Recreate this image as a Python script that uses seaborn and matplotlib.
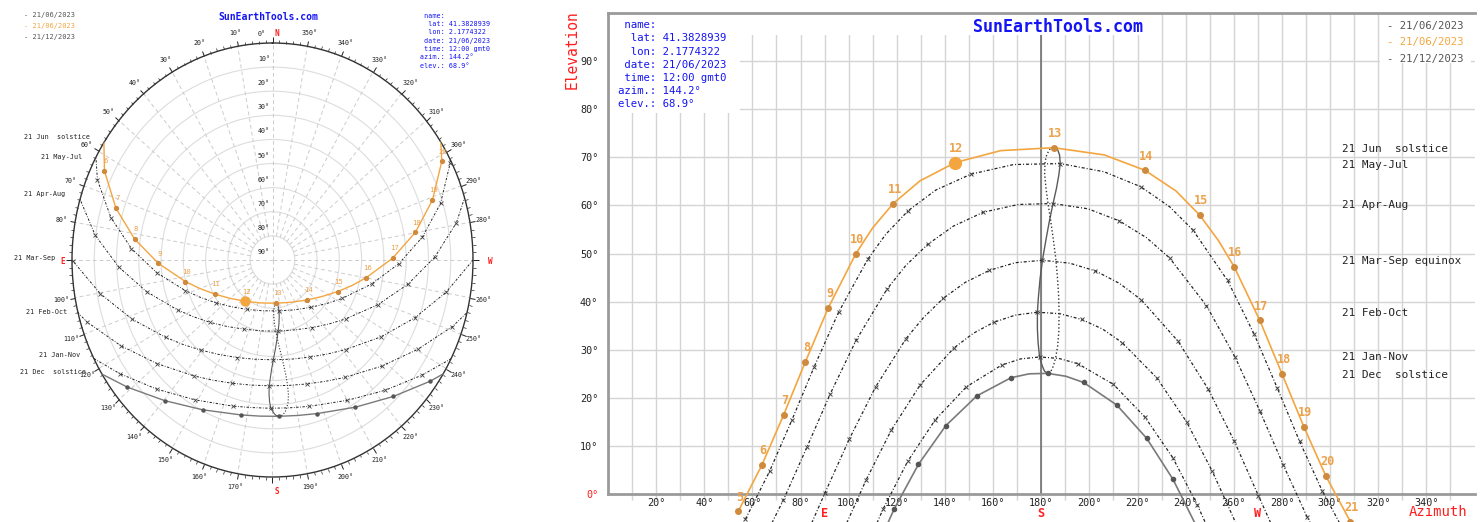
import numpy as np
import matplotlib
matplotlib.use("Agg")
import matplotlib.pyplot as plt
import seaborn as sns
from matplotlib.patches import Rectangle

# ---- values: azimuth / elevation in degrees, hour = clock label ----
hours_jun = [5, 6, 7, 8, 9, 10, 10.5, 11, 11.5, 12, 12.5, 13, 13.5, 14, 14.5, 15, 15.5, 16, 17, 18, 19, 20, 21]
az_jun = [54.1, 63.9, 73.0, 82.0, 91.5, 102.9, 109.9, 118.5, 129.6, 144.2, 163.2, 185.2, 206.2, 223.1, 236.0,
          245.8, 253.6, 260.1, 270.8, 280.1, 289.1, 298.3, 308.4]
el_jun = [-3.6, 6.0, 16.5, 27.5, 38.7, 49.9, 55.3, 60.4, 65.1, 68.9, 71.4, 72.0, 70.5, 67.3, 63.0,
          58.0, 52.7, 47.3, 36.1, 24.9, 14.0, 3.7, -5.7]

hours_may = [5, 6, 7, 8, 9, 10, 10.5, 11, 11.5, 12, 12.5, 13, 13.5, 14, 14.5, 15, 16, 17, 18, 19, 20, 21]
az_may = [57.1, 67.1, 76.4, 85.7, 95.8, 107.9, 115.4, 124.7, 136.2, 150.8, 168.5, 187.9, 206.1, 221.3, 233.4,
          243.0, 257.4, 268.5, 278.1, 287.3, 296.8, 307.2]
el_may = [-5.2, 4.7, 15.4, 26.5, 37.8, 48.8, 54.0, 58.9, 63.2, 66.5, 68.5, 68.7, 67.0, 63.9, 59.7,
          54.9, 44.4, 33.2, 22.0, 11.0, 0.6, -9.0]

hours_apr = [5, 6, 7, 8, 9, 10, 10.5, 11, 11.5, 12, 12.5, 13, 13.5, 14, 14.5, 15, 16, 17, 18, 19, 20, 21]
az_apr = [62.4, 72.8, 82.6, 92.4, 103.1, 115.9, 123.7, 132.8, 143.5, 156.0, 170.5, 184.9, 199.4, 212.4, 223.7,
          233.3, 248.6, 260.6, 270.9, 280.6, 290.5, 301.3]
el_apr = [-11.7, -1.3, 9.7, 20.9, 32.0, 42.6, 47.5, 51.9, 55.7, 58.6, 60.2, 60.4, 59.3, 56.8, 53.3,
          49.1, 39.2, 28.4, 17.2, 6.0, -4.8, -14.9]

hours_mar = [6, 7, 8, 9, 10, 10.5, 11, 11.5, 12, 12.5, 13, 13.5, 14, 14.5, 15, 16, 17, 18, 19, 20]
az_mar = [80.2, 90.2, 100.3, 111.2, 123.8, 131.1, 139.3, 148.4, 158.4, 169.2, 180.5, 191.8, 202.5, 212.5,
          221.5, 236.8, 249.4, 260.2, 270.2, 280.3]
el_mar = [-11.0, 0.3, 11.5, 22.3, 32.3, 36.7, 40.7, 44.0, 46.5, 48.1, 48.6, 48.0, 46.4, 43.8,
          40.4, 31.8, 21.8, 11.0, -0.3, -11.5]

hours_feb = [7, 8, 9, 10, 11, 11.5, 12, 12.5, 13, 13.5, 14, 14.5, 15, 16, 17, 18, 19]
az_feb = [97.3, 107.2, 117.7, 129.7, 143.8, 151.7, 160.2, 169.2, 178.4, 187.7, 196.8, 205.5, 213.6, 228.1,
          240.4, 251.1, 261.0]
el_feb = [-8.1, 2.9, 13.3, 22.7, 30.4, 33.4, 35.7, 37.2, 37.8, 37.5, 36.3, 34.3, 31.5, 24.1, 15.0, 4.7, -6.2]

hours_jan = [7, 8, 9, 10, 11, 12, 12.5, 13, 13.5, 14, 15, 16, 17, 18, 19]
az_jan = [105.0, 114.4, 124.5, 135.9, 148.9, 163.5, 171.4, 179.3, 187.3, 195.2, 210.0, 223.1, 234.6, 244.8, 254.3]
el_jan = [-13.6, -3.0, 6.8, 15.4, 22.3, 26.8, 28.1, 28.5, 28.2, 27.1, 22.8, 16.0, 7.6, -2.2, -12.7]

hours_dec = [7, 8, 9, 10, 11, 12, 12.5, 13, 13.5, 14, 15, 16, 17, 18]
az_dec = [109.6, 118.9, 129.0, 140.3, 153.2, 167.5, 175.0, 182.6, 190.2, 197.6, 211.4, 223.8, 234.7, 244.4]
el_dec = [-13.4, -3.1, 6.2, 14.2, 20.4, 24.2, 25.0, 25.1, 24.5, 23.2, 18.5, 11.6, 3.1, -6.6]

# analemma at 13h: Dec->Jun (solid) and Jun->Dec (dotted)
ana1_az = [182.6, 181.3, 180.3, 179.3, 178.7, 178.4, 178.4, 178.8, 179.5, 180.5, 182.0, 183.4, 184.9, 186.3,
           187.3, 187.9, 187.6, 186.8, 185.2]
ana1_el = [25.1, 25.6, 26.8, 28.5, 31.4, 34.3, 37.8, 40.8, 44.7, 48.6, 53.0, 56.8, 60.4, 63.5,
           66.3, 68.7, 70.5, 71.6, 72.0]
ana2_az = [185.2, 183.6, 182.3, 181.6, 181.4, 181.9, 182.7, 183.9, 185.0, 186.0, 186.7, 187.2, 187.4, 187.3,
           186.8, 186.0, 185.1, 184.0, 182.6]
ana2_el = [72.0, 71.7, 70.6, 69.1, 66.6, 63.9, 60.8, 56.9, 53.0, 49.1, 45.2, 41.4, 37.5, 33.8,
           30.7, 28.4, 26.7, 25.5, 25.1]

sun_az, sun_el = 144.2, 68.9

info_keys = ["name", "lat", "lon", "date", "time", "azim.", "elev."]
info_vals = ["", "41.3828939", "2.1774322", "21/06/2023", "12:00 gmt0", "144.2°", "68.9°"]
legend_labels = ["- 21/06/2023", "- 21/06/2023", "- 21/12/2023"]
month_labels = ["21 Jun  solstice", "21 May-Jul", "21 Apr-Aug", "21 Mar-Sep equinox",
                "21 Feb-Oct", "21 Jan-Nov", "21 Dec  solstice"]
polar_month_labels = ["21 Jun  solstice", "21 May-Jul", "21 Apr-Aug", "21 Mar-Sep",
                      "21 Feb-Oct", "21 Jan-Nov", "21 Dec  solstice"]
az_ticks = list(range(20, 360, 20))
el_ticks = list(range(0, 100, 10))
az_grid = list(range(10, 360, 10))
el_grid = list(range(10, 100, 10))

W, H = 1483, 522


def fx(x):
    return x / W


def fy(y):
    return 1 - y / H


def on_hour(hours, values):
    return [v for h, v in zip(hours, values) if float(h).is_integer()]


sns.set_theme(style="white")
plt.rcParams["font.family"] = ["DejaVu Sans Mono", "DejaVu Sans"]

ORANGE = "#f3a640"
ORANGE_DOT = "#cf8a3c"
ORANGE_TXT = "#eda14a"
GRID = "#d4d4d4"
BLUE = "#1414f5"
RED = "#ff1e1e"
INK = "#222222"
DOT_DASH = (0, (2.4, 1.6, 0.8, 1.6))

dotted = [(hours_may, az_may, el_may), (hours_apr, az_apr, el_apr), (hours_mar, az_mar, el_mar),
          (hours_feb, az_feb, el_feb), (hours_jan, az_jan, el_jan)]

fig = plt.figure(figsize=(W / 100, H / 100), dpi=100)
fig.patch.set_facecolor("white")

# ---------------- right: cartesian sun path ----------------
ax = fig.add_axes([fx(608), 0, 866.5 / W, 509 / H])
ax.set_xlim(0, 360)
ax.set_ylim(-5.8, 100)
ax.vlines(az_grid, -1.3, 100, color=GRID, lw=1.0, zorder=0)
ax.hlines(el_grid, 0, 360, color=GRID, lw=1.0, zorder=0)
ax.add_patch(Rectangle((0, 79.2), 54.8, 20.8, facecolor="white", lw=0, zorder=1))
ax.add_patch(Rectangle((54.8, 95.4), 170, 4.6, facecolor="white", lw=0, zorder=1))
ax.add_patch(Rectangle((320.7, 89.6), 37.8, 10.4, facecolor="white", lw=0, zorder=1))
ax.vlines(180, 0, 95.4, color="#666666", lw=1.1, zorder=2)

for hours, az, el in dotted:
    sns.lineplot(x=az, y=el, sort=False, estimator=None, color=INK, lw=0.9, linestyle=DOT_DASH, ax=ax, zorder=3)
    ax.plot(on_hour(hours, az), on_hour(hours, el), ls="none", marker="x", ms=3, mew=0.7, color="#444444", zorder=4)

sns.lineplot(x=az_dec, y=el_dec, sort=False, estimator=None, color="#7a7a7a", lw=1.2, ax=ax, zorder=3)
ax.plot(on_hour(hours_dec, az_dec), on_hour(hours_dec, el_dec), ls="none", marker="o", ms=3, color="#555555", zorder=4)

sns.lineplot(x=ana1_az, y=ana1_el, sort=False, estimator=None, color="#5a5a5a", lw=1.0, ax=ax, zorder=3)
sns.lineplot(x=ana2_az, y=ana2_el, sort=False, estimator=None, color="#333333", lw=1.0,
             linestyle=(0, (1, 1.6)), ax=ax, zorder=3)

sns.lineplot(x=az_jun, y=el_jun, sort=False, estimator=None, color=ORANGE, lw=1.2, ax=ax, zorder=5)
ax.plot(on_hour(hours_jun, az_jun), on_hour(hours_jun, el_jun), ls="none", marker="o", ms=4,
        color=ORANGE_DOT, zorder=6)
ax.plot([sun_az], [sun_el], ls="none", marker="o", ms=8.5, color=ORANGE, zorder=7)
for h, a, e in zip(hours_jun, az_jun, el_jun):
    if float(h).is_integer():
        ax.annotate(f"{int(h)}", (a, e), xytext=(1, 10.3), textcoords="offset points", ha="center", va="center",
                    color=ORANGE_TXT, fontsize=8.6, fontweight="bold", zorder=8)

for side in ["left", "top", "bottom"]:
    ax.spines[side].set_color("#9a9a9a")
    ax.spines[side].set_linewidth(2)
ax.spines["right"].set_visible(False)
ax.spines["left"].set_bounds(0, 100)
ax.spines["bottom"].set_position(("data", 0))
ax.set_xticks(az_ticks)
ax.set_xticklabels([f"{a}°" for a in az_ticks])
ax.set_yticks(el_ticks)
ax.set_yticklabels([f"{e}°" for e in el_ticks])
ax.tick_params(axis="x", length=0, pad=2.5, labelsize=7.3, labelcolor=INK)
ax.tick_params(axis="y", length=0, pad=7, labelsize=7.3, labelcolor=INK)
ax.get_yticklabels()[0].set_color(RED)
ax.set_xlabel("")
ax.set_ylabel("")
for a, letter in [(90, "E"), (180, "S"), (270, "W")]:
    ax.text(a, -4.0, letter, color=RED, fontsize=8.5, fontweight="bold", ha="center", va="center")

fig.text(fx(1058), fy(27), "SunEarthTools.com", color=BLUE, fontsize=12, fontweight="bold", ha="center", va="center")
for i, (k, v) in enumerate(zip(info_keys, info_vals)):
    fig.text(fx(618), fy(25.3 + 13.15 * i), f"{k:>5}: {v}", color=BLUE, fontsize=7.7, ha="left", va="center")
for i, (lab, c) in enumerate(zip(legend_labels, ["#555555", ORANGE, "#555555"])):
    fig.text(fx(1387), fy(25.7 + 16.65 * i), lab, color=c, fontsize=7.7, ha="left", va="center")
for lab, y in zip(month_labels, [149.5, 165.5, 205.5, 261, 312.5, 357.5, 375]):
    fig.text(fx(1342), fy(y), lab, color=INK, fontsize=7.9, ha="left", va="center")
fig.text(fx(572), fy(50), "Elevation", color=RED, fontsize=10.5, rotation=90, ha="center", va="center")
fig.text(fx(1438), fy(512), "Azimuth", color=RED, fontsize=10, ha="center", va="center")

# ---------------- left: polar sun path ----------------
pax = fig.add_axes([fx(72), fy(477), 401 / W, 434 / H], projection="polar")
pax.set_aspect("auto")
pax.set_facecolor("white")
pax.set_theta_zero_location("N")
pax.set_theta_direction(1)
pax.set_ylim(0, 90)
pax.set_yticks([90 - e for e in el_grid[:-1]])
pax.set_yticklabels([])
ring_az = list(range(0, 360, 10))
pax.set_xticks(np.deg2rad(ring_az))
pax.set_xticklabels(["" if a % 90 == 0 else f"{a}°" for a in ring_az])
pax.set_xticks(np.deg2rad(np.arange(0, 360, 2)), minor=True)
pax.xaxis.grid(False)
pax.yaxis.grid(True, color="#dddddd", lw=0.8, linestyle="-")
# radial guides: cardinal ones cross the centre, the others stop at the 80 deg ring
pax.vlines(np.deg2rad(ring_az), [0 if a % 90 == 0 else 10 for a in ring_az], 90,
           color="#cccccc", lw=0.7, linestyles=[(0, (4, 3))], zorder=1)
pax.tick_params(axis="x", which="both", bottom=False, top=True, direction="out", color=INK)
pax.tick_params(axis="x", which="major", length=4, width=0.7, pad=-1, labelsize=4.8, labelcolor=INK)
pax.tick_params(axis="x", which="minor", length=2, width=0.5)
pax.spines["polar"].set_color("#333333")
pax.spines["polar"].set_linewidth(1.0)


def pol(az, el):
    return np.deg2rad(az), 90 - np.asarray(el, dtype=float)


for hours, az, el in dotted:
    pax.plot(*pol(az, el), color=INK, lw=0.7, linestyle=DOT_DASH, zorder=3)
    pax.plot(*pol(on_hour(hours, az), on_hour(hours, el)), ls="none", marker="x", ms=2.2, mew=0.6,
             color="#444444", zorder=4)
pax.plot(*pol(az_dec, el_dec), color="#7a7a7a", lw=1.0, zorder=3)
pax.plot(*pol(on_hour(hours_dec, az_dec), on_hour(hours_dec, el_dec)), ls="none", marker="o", ms=2.2,
         color="#555555", zorder=4)
pax.plot(*pol(ana1_az, ana1_el), color="#5a5a5a", lw=0.8, zorder=3)
pax.plot(*pol(ana2_az, ana2_el), color="#333333", lw=0.8, linestyle=(0, (1, 1.6)), zorder=3)
pax.plot(*pol(az_jun, el_jun), color=ORANGE, lw=1.0, zorder=5)
pax.plot(*pol(on_hour(hours_jun, az_jun), on_hour(hours_jun, el_jun)), ls="none", marker="o", ms=2.8,
         color=ORANGE_DOT, zorder=6)
pax.plot(*pol([sun_az], [sun_el]), ls="none", marker="o", ms=6.5, color=ORANGE, zorder=7)
for h, a, e in zip(hours_jun, az_jun, el_jun):
    if float(h).is_integer():
        pax.annotate(f"{int(h)}", pol(a, e), xytext=(1, 7), textcoords="offset points", ha="center",
                     va="center", color=ORANGE_TXT, fontsize=5.2, zorder=8)
for e in el_grid:
    pax.annotate(f"{e}°", (0, 90 - e), xytext=(-2, 5.8), textcoords="offset points", ha="right", va="center",
                 fontsize=4.8, color=INK)

fig.text(fx(268), fy(16.7), "SunEarthTools.com", color=BLUE, fontsize=7, fontweight="bold", ha="center", va="center")
for i, (k, v) in enumerate(zip(info_keys, info_vals)):
    fig.text(fx(420), fy(15.7 + 8.33 * i), f"{k:>5}: {v}", color=BLUE, fontsize=4.9, ha="left", va="center")
for i, (lab, c) in enumerate(zip(legend_labels, ["#555555", ORANGE, "#555555"])):
    fig.text(fx(24), fy(15.3 + 10.7 * i), lab, color=c, fontsize=5.0, ha="left", va="center")
for lab, (x, y) in zip(polar_month_labels, [(90, 137), (82, 157), (65, 194), (55, 258), (67, 312),
                                             (80, 355), (86, 371.5)]):
    fig.text(fx(x), fy(y), lab, color=INK, fontsize=4.9, ha="right", va="center")
fig.text(fx(262), fy(34), "0°", color=INK, fontsize=4.8, ha="center", va="center")
for lab, (x, y) in zip(["N", "E", "S", "W"], [(277, 33), (63, 261), (277, 491), (490, 262)]):
    fig.text(fx(x), fy(y), lab, color=RED, fontsize=5.5, fontweight="bold", ha="center", va="center")

fig.savefig("out.png", dpi=100, facecolor="white")
